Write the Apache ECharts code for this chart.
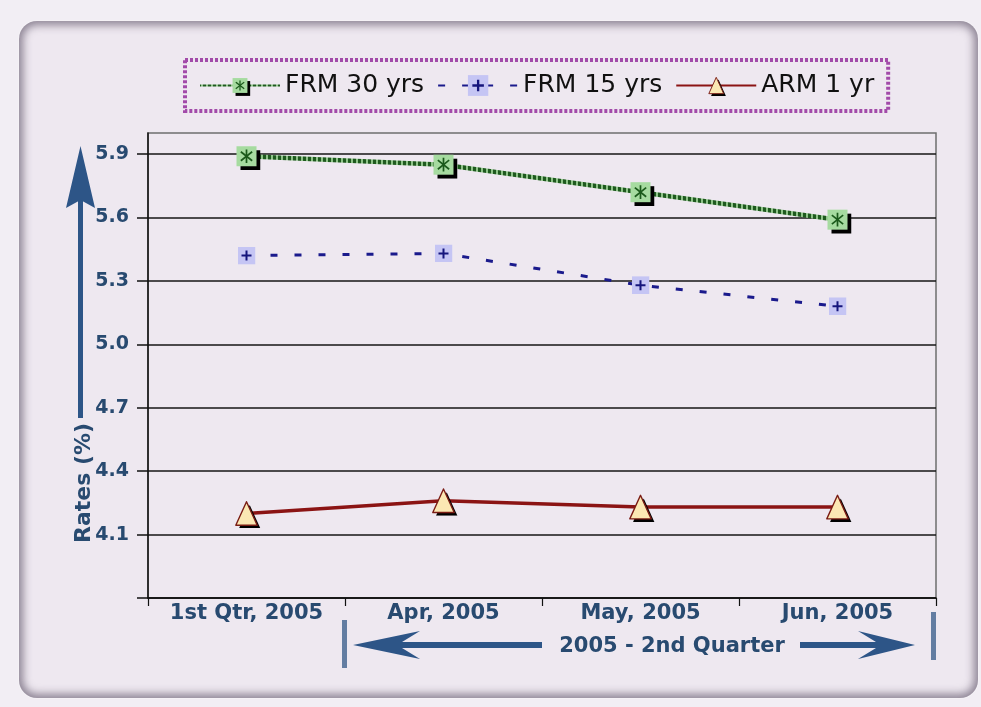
<!DOCTYPE html>
<html>
<head>
<meta charset="utf-8">
<title>Mortgage Rates 2005</title>
<script src="https://cdn.jsdelivr.net/npm/echarts@6/dist/echarts.min.js"></script>
<style>
  html, body { margin: 0; padding: 0; background: #f2eef4; }
  #wrap { position: relative; width: 981px; height: 707px; overflow: hidden; }
  #frame {
    position: absolute; left: 19px; top: 21px; width: 959px; height: 677px;
    border-radius: 18px; background: #eee8f0;
    box-shadow: inset 0 0 8px 4px rgba(80, 70, 90, 0.62), 0 0 2px rgba(255, 255, 255, 0.9);
  }
  #chart { position: absolute; left: 0; top: 0; width: 981px; height: 707px; }
</style>
</head>
<body>
<div id="wrap">
  <div id="frame"></div>
  <div id="chart"></div>
</div>
<script>
// Periods on the category axis
const categories = ['1st Qtr, 2005', 'Apr, 2005', 'May, 2005', 'Jun, 2005'];

// Average rates (%) per period
const frm30 = [5.89, 5.85, 5.72, 5.59];
const frm15 = [5.42, 5.43, 5.28, 5.18];
const arm1 = [4.20, 4.26, 4.23, 4.23];

// Value axis range and tick marks
const rateMin = 3.8;
const rateMax = 6.0;
const rateTicks = [3.8, 4.1, 4.4, 4.7, 5.0, 5.3, 5.6, 5.9];
const rateLabels = [4.1, 4.4, 4.7, 5.0, 5.3, 5.6, 5.9];

const seriesNames = ['FRM 30 yrs', 'FRM 15 yrs', 'ARM 1 yr'];

const labelColor = '#284a70';
const arrowColor = '#2d5587';
const boldFont = 'DejaVu Sans';

// Marker glyphs as inline SVG images
function svgSymbol(svg) {
  return 'image://data:image/svg+xml;charset=utf-8,' + encodeURIComponent(svg);
}
const sym30 = svgSymbol(
  '<svg xmlns="http://www.w3.org/2000/svg" width="28" height="28" viewBox="-4 -4 28 28">' +
  '<rect x="4" y="4" width="20" height="20" fill="#000"/>' +
  '<rect x="0" y="0" width="20" height="20" fill="#a6dba0"/>' +
  '<g stroke="#1b5a1b" stroke-width="1.7" stroke-linecap="square">' +
  '<line x1="10" y1="4" x2="10" y2="16"/><line x1="5" y1="6" x2="15" y2="14"/><line x1="15" y1="6" x2="5" y2="14"/>' +
  '</g></svg>');
const sym15 = svgSymbol(
  '<svg xmlns="http://www.w3.org/2000/svg" width="18" height="18" viewBox="0 0 18 18">' +
  '<rect x="0" y="0" width="18" height="18" fill="#c5c5f4"/>' +
  '<g stroke="#15157c" stroke-width="2"><line x1="9" y1="4" x2="9" y2="14"/><line x1="4" y1="9" x2="14" y2="9"/></g>' +
  '</svg>');
const symArm = svgSymbol(
  '<svg xmlns="http://www.w3.org/2000/svg" width="28" height="28" viewBox="-3.5 -4 28 28">' +
  '<polygon points="13.5,2 3.5,24 23.5,24" fill="#000"/>' +
  '<polygon points="10.5,-1 0.5,21 20.5,21" fill="#fbe8b3" stroke="#7a1c14" stroke-width="1.3" stroke-linejoin="round"/>' +
  '</svg>');

// Chain-like stroke texture for the 30-year line
function chainPattern() {
  const c = document.createElement('canvas');
  c.width = 5; c.height = 1;
  const g = c.getContext('2d');
  g.fillStyle = '#1e5a1e';
  g.fillRect(0, 0, 5, 1);
  g.fillStyle = '#8fc489';
  g.fillRect(1, 0, 2, 1);
  return { image: c, repeat: 'repeat' };
}

const chart = echarts.init(document.getElementById('chart'), null, { renderer: 'canvas' });

chart.setOption({
  backgroundColor: 'transparent',
  animation: false,
  grid: {
    left: 148, right: 45, top: 133, bottom: 109,
    show: true, borderColor: '#6e6e6e', borderWidth: 1.5, backgroundColor: 'transparent'
  },
  legend: {
    data: seriesNames,
    left: 185, top: 60,
    itemWidth: 80, itemHeight: 26, itemGap: 13,
    padding: [13, 14],
    borderColor: '#a24aa9', borderWidth: 4, borderType: [3, 2],
    textStyle: { fontFamily: 'DejaVu Sans', fontSize: 25, color: '#111' },
    selectedMode: false
  },
  xAxis: {
    type: 'category',
    data: categories,
    boundaryGap: true,
    axisLine: { lineStyle: { color: '#111', width: 1.5 } },
    axisTick: { show: true, length: 8, lineStyle: { color: '#111', width: 1.2 } },
    axisLabel: {
      interval: 0, margin: 5,
      fontFamily: boldFont, fontWeight: 'bold', fontSize: 21, color: labelColor
    },
    splitLine: { show: false }
  },
  yAxis: {
    type: 'value',
    min: rateMin, max: rateMax,
    axisLine: { show: true, lineStyle: { color: '#111', width: 1.5 } },
    axisTick: { show: true, length: 11, customValues: rateTicks, lineStyle: { color: '#111', width: 1.5 } },
    axisLabel: {
      customValues: rateLabels, margin: 19,
      formatter: v => Number(v).toFixed(1),
      fontFamily: boldFont, fontWeight: 'bold', fontSize: 19, color: labelColor
    },
    splitLine: { show: true, customValues: rateTicks, lineStyle: { color: '#161616', width: 1.6 } }
  },
  series: [
    {
      name: seriesNames[0], type: 'line', data: frm30,
      symbol: sym30, symbolSize: 28, symbolKeepAspect: true,
      lineStyle: { width: 4.5, color: chainPattern() },
      itemStyle: { color: '#2a6a2a' },
      emphasis: { disabled: true }, z: 4
    },
    {
      name: seriesNames[1], type: 'line', data: frm15,
      symbol: sym15, symbolSize: 18, symbolKeepAspect: true,
      lineStyle: { width: 3, color: '#1a1a8c', type: [7, 17] },
      itemStyle: { color: '#1a1a8c' },
      emphasis: { disabled: true }, z: 3
    },
    {
      name: seriesNames[2], type: 'line', data: arm1,
      symbol: symArm, symbolSize: 30, symbolKeepAspect: true,
      lineStyle: { width: 3.5, color: '#8b1414' },
      itemStyle: { color: '#8b1414' },
      emphasis: { disabled: true }, z: 3
    }
  ],
  graphic: [
    // vertical axis title with its upward arrow
    { type: 'rect', shape: { x: 78, y: 198, width: 5, height: 220 }, style: { fill: arrowColor }, silent: true },
    { type: 'polygon', shape: { points: [[80.5, 146], [95, 208], [80.5, 200], [66, 208]] }, style: { fill: arrowColor }, silent: true },
    {
      type: 'text', x: 84, y: 483, rotation: Math.PI / 2,
      style: {
        text: 'Rates (%)', fill: labelColor, font: 'bold 22px "DejaVu Sans"',
        align: 'center', verticalAlign: 'middle'
      },
      silent: true
    },
    // quarter span marker under the axis
    { type: 'rect', shape: { x: 342, y: 620, width: 5, height: 48 }, style: { fill: '#4a6a94', opacity: 0.85 }, silent: true },
    { type: 'rect', shape: { x: 931, y: 612, width: 5, height: 48 }, style: { fill: '#4a6a94', opacity: 0.85 }, silent: true },
    {
      type: 'polygon',
      shape: { points: [[353, 645], [420, 631], [402, 642], [542, 642], [542, 648], [402, 648], [420, 659]] },
      style: { fill: arrowColor }, silent: true
    },
    {
      type: 'polygon',
      shape: { points: [[800, 642], [876, 642], [858, 631], [915, 645], [858, 659], [876, 648], [800, 648]] },
      style: { fill: arrowColor }, silent: true
    },
    {
      type: 'text', x: 672, y: 647,
      style: {
        text: '2005 - 2nd Quarter', fill: labelColor, font: 'bold 21px "DejaVu Sans"',
        align: 'center', verticalAlign: 'middle'
      },
      silent: true
    }
  ]
});
</script>
</body>
</html>
